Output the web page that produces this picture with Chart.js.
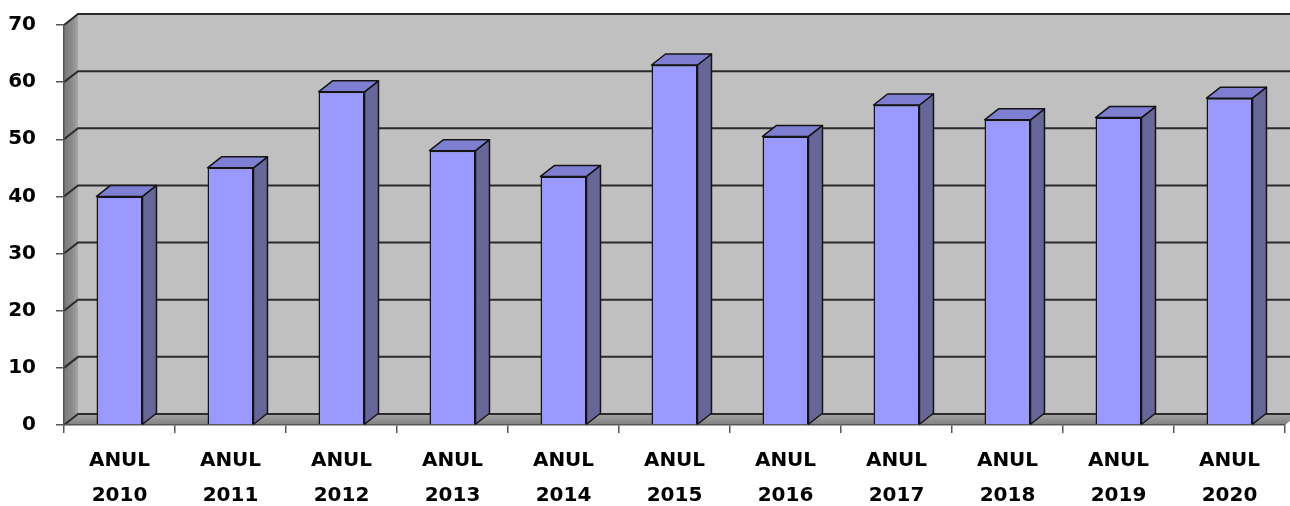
<!DOCTYPE html>
<html>
<head>
<meta charset="utf-8">
<script src="https://cdn.jsdelivr.net/npm/chart.js@4.4.1/dist/chart.umd.min.js"></script>
<style>
  html, body { margin: 0; padding: 0; background: #fff; }
  canvas { display: block; }
</style>
</head>
<body>
<canvas id="chart" width="1290" height="506"></canvas>
<script>
const years = ["2010", "2011", "2012", "2013", "2014", "2015", "2016", "2017", "2018", "2019", "2020"];
const values = [40, 45, 58.3, 48, 43.5, 63, 50.5, 56, 53.4, 53.8, 57.2];
const yMax = 70;
const yStep = 10;

// 3D depth offset of walls and bar sides
const DX = 14;
const DY = -11;

const labelFont = { family: "DejaVu Sans", weight: "bold", size: 20 };

function poly(ctx, pts) {
  ctx.beginPath();
  ctx.moveTo(pts[0][0], pts[0][1]);
  for (let i = 1; i < pts.length; i++) ctx.lineTo(pts[i][0], pts[i][1]);
  ctx.closePath();
}

// walls, floor and gridlines behind everything
const walls = {
  id: "walls",
  beforeDraw(chart) {
    const { ctx, chartArea: a, scales } = chart;
    ctx.save();

    // back wall
    ctx.fillStyle = "#c0c0c0";
    ctx.fillRect(a.left + DX, a.top + DY, a.right - a.left, a.bottom - a.top);

    // left wall
    const gl = ctx.createLinearGradient(a.left, 0, a.left + DX, 0);
    gl.addColorStop(0, "#7a7a7a");
    gl.addColorStop(0.6, "#8c8c8c");
    gl.addColorStop(1, "#a6a6a6");
    ctx.fillStyle = gl;
    poly(ctx, [[a.left, a.top], [a.left + DX, a.top + DY], [a.left + DX, a.bottom + DY], [a.left, a.bottom]]);
    ctx.fill();

    // floor
    const gf = ctx.createLinearGradient(0, a.bottom + DY, 0, a.bottom);
    gf.addColorStop(0, "#a4a4a4");
    gf.addColorStop(1, "#808080");
    ctx.fillStyle = gf;
    poly(ctx, [[a.left, a.bottom], [a.left + DX, a.bottom + DY], [a.right + DX, a.bottom + DY], [a.right, a.bottom]]);
    ctx.fill();

    // gridlines across left wall and back wall
    ctx.strokeStyle = "#2b2b2b";
    ctx.lineWidth = 2;
    scales.y.ticks.forEach(t => {
      const py = scales.y.getPixelForValue(t.value);
      ctx.beginPath();
      ctx.moveTo(a.left, py);
      ctx.lineTo(a.left + DX, py + DY);
      ctx.lineTo(a.right + DX, py + DY);
      ctx.stroke();
    });
    ctx.restore();
  }
};

// side and top faces of each bar
const barFaces = {
  id: "barFaces",
  afterDatasetsDraw(chart) {
    const { ctx } = chart;
    const meta = chart.getDatasetMeta(0);
    ctx.save();
    ctx.lineWidth = 1.5;
    ctx.lineJoin = "round";
    ctx.strokeStyle = "#141414";
    meta.data.forEach(bar => {
      const { x, y, base, width } = bar.getProps(["x", "y", "base", "width"], true);
      const l = x - width / 2;
      const r = x + width / 2;
      ctx.fillStyle = "#666699";
      poly(ctx, [[r, y], [r + DX, y + DY], [r + DX, base + DY], [r, base]]);
      ctx.fill();
      ctx.stroke();
      ctx.fillStyle = "#7e7ed2";
      poly(ctx, [[l, y], [l + DX, y + DY], [r + DX, y + DY], [r, y]]);
      ctx.fill();
      ctx.stroke();
    });
    ctx.restore();
  }
};

new Chart(document.getElementById("chart"), {
  type: "bar",
  data: {
    labels: years.map(y => ["ANUL", y]),
    datasets: [{
      data: values,
      backgroundColor: "#9999ff",
      borderColor: "#141414",
      borderWidth: 1.5,
      categoryPercentage: 1,
      barPercentage: 0.414
    }]
  },
  options: {
    responsive: false,
    animation: false,
    layout: { padding: { top: 25, right: 5, left: 0, bottom: 0 } },
    plugins: { legend: { display: false }, tooltip: { enabled: false } },
    scales: {
      y: {
        min: 0,
        max: yMax,
        ticks: { stepSize: yStep, color: "#000", font: labelFont, padding: 20 },
        grid: { drawOnChartArea: false, tickLength: 8, color: "#555", lineWidth: 1.5 },
        border: { color: "#555", width: 1.5 },
        afterFit(s) {
          s.width = 64;
          s.paddingTop = 0;
          s.paddingBottom = 0;
        }
      },
      x: {
        ticks: { color: "#000", font: { ...labelFont, lineHeight: "35px" }, padding: 10, maxRotation: 0 },
        grid: { offset: true, drawOnChartArea: false, tickLength: 8, color: "#555", lineWidth: 1.5 },
        border: { color: "#555", width: 1.5 },
        afterFit(s) {
          s.height = 81;
          s.paddingLeft = 0;
          s.paddingRight = 0;
        }
      }
    }
  },
  plugins: [walls, barFaces]
});
</script>
</body>
</html>
